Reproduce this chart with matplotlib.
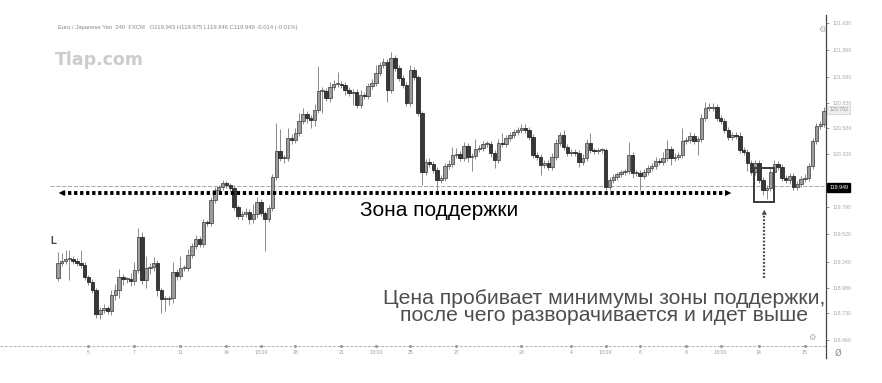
import numpy as np
import matplotlib
matplotlib.use("Agg")
import matplotlib.pyplot as plt
import matplotlib.transforms as mtransforms

plt.rcParams["font.family"] = ["Liberation Sans", "DejaVu Sans"]

# === Data: EUR/JPY 4H candles ===
first_open = 119.08
closes = [
    119.23, 119.25, 119.27, 119.27, 119.25, 119.23, 119.21, 119.09, 119.04, 118.96,
    118.72, 118.76, 118.78, 118.75, 118.91, 118.96, 119.09, 119.07, 119.07, 119.05,
    119.16, 119.49, 119.06, 119.18, 119.19, 119.23, 118.96, 118.87, 118.87, 118.88,
    119.14, 119.10, 119.18, 119.18, 119.31, 119.40, 119.47, 119.42, 119.64, 119.63,
    119.86, 119.96, 119.99, 120.03, 120.01, 119.98, 119.79, 119.70, 119.72, 119.74,
    119.67, 119.72, 119.84, 119.73, 119.67, 119.78, 120.09, 120.35, 120.28, 120.28,
    120.48, 120.46, 120.53, 120.65, 120.72, 120.68, 120.66, 120.76, 120.95, 120.95,
    120.88, 120.99, 121.02, 121.02, 121.01, 120.96, 120.93, 120.94, 120.81, 120.91,
    120.90, 121.00, 121.03, 121.13, 121.21, 121.24, 120.96, 121.28, 121.18, 121.08,
    121.01, 120.83, 121.16, 121.09, 120.73, 120.14, 120.24, 120.22, 120.16, 120.06,
    120.08, 120.20, 120.22, 120.31, 120.32, 120.28, 120.40, 120.29, 120.30, 120.37,
    120.38, 120.42, 120.42, 120.33, 120.26, 120.43, 120.42, 120.48, 120.51, 120.54,
    120.56, 120.58, 120.56, 120.49, 120.31, 120.29, 120.21, 120.23, 120.19, 120.29,
    120.43, 120.51, 120.39, 120.33, 120.34, 120.33, 120.24, 120.28, 120.43, 120.36,
    120.35, 120.36, 120.36, 119.99, 120.06, 120.09, 120.12, 120.14, 120.15, 120.31,
    120.13, 120.13, 120.10, 120.14, 120.18, 120.20, 120.25, 120.24, 120.28, 120.37,
    120.28, 120.29, 120.31, 120.45, 120.46, 120.50, 120.45, 120.47, 120.68, 120.78,
    120.78, 120.79, 120.68, 120.65, 120.56, 120.49, 120.51, 120.50, 120.36, 120.34,
    120.23, 120.14, 120.23, 120.06, 119.96, 119.98, 120.14, 120.22, 120.19, 120.08,
    120.06, 120.10, 119.99, 120.02, 120.07, 120.08, 120.20, 120.45, 120.60, 120.62,
    120.75,
]

# wick lengths above / below the body, in pips (0.01)
wick_up = [
    11, 8, 9, 9, 3, 3, 13, 3, 2, 3,
    2, 3, 4, 2, 5, 6, 8, 3, 2, 6,
    8, 9, 5, 12, 4, 6, 3, 2, 3, 2,
    10, 3, 12, 3, 6, 3, 4, 3, 3, 2,
    3, 3, 2, 3, 2, 2, 3, 2, 3, 4,
    3, 10, 5, 3, 2, 3, 3, 28, 22, 3,
    10, 4, 5, 8, 6, 3, 3, 6, 25, 4,
    3, 5, 4, 12, 3, 3, 3, 3, 3, 5,
    3, 3, 4, 8, 3, 4, 3, 6, 3, 3,
    3, 3, 5, 3, 2, 2, 3, 4, 3, 3,
    3, 3, 4, 8, 6, 3, 4, 3, 3, 10,
    3, 3, 3, 3, 3, 4, 10, 3, 3, 3,
    3, 4, 4, 3, 3, 3, 3, 3, 3, 4,
    4, 3, 5, 3, 3, 3, 3, 4, 4, 10,
    2, 2, 2, 2, 3, 3, 2, 2, 2, 13,
    3, 3, 3, 3, 3, 3, 4, 3, 6, 9,
    3, 4, 3, 13, 3, 4, 3, 3, 4, 6,
    5, 4, 3, 3, 3, 3, 3, 3, 4, 3,
    3, 3, 3, 3, 3, 3, 4, 4, 3, 3,
    3, 3, 3, 3, 3, 4, 3, 3, 3, 3, 4,
]
wick_dn = [
    3, 3, 3, 21, 3, 3, 3, 3, 3, 3,
    4, 5, 3, 3, 4, 5, 8, 6, 4, 5,
    4, 3, 4, 8, 6, 4, 6, 14, 12, 6,
    5, 4, 3, 3, 3, 3, 3, 3, 3, 3,
    3, 3, 2, 3, 3, 3, 3, 3, 4, 3,
    5, 4, 4, 3, 32, 3, 3, 3, 3, 5,
    3, 4, 3, 3, 3, 5, 8, 6, 3, 22,
    3, 4, 3, 3, 3, 5, 3, 12, 3, 3,
    3, 3, 3, 3, 3, 3, 12, 3, 3, 3,
    3, 3, 3, 3, 3, 13, 3, 3, 3, 12,
    3, 3, 3, 3, 3, 3, 3, 5, 14, 3,
    3, 3, 3, 4, 8, 3, 3, 3, 3, 3,
    3, 3, 3, 3, 3, 3, 10, 3, 3, 3,
    3, 3, 3, 3, 3, 3, 5, 3, 3, 3,
    3, 3, 3, 3, 3, 3, 3, 3, 3, 3,
    5, 3, 14, 3, 3, 3, 3, 3, 3, 3,
    7, 3, 3, 3, 3, 3, 3, 14, 3, 3,
    3, 3, 3, 3, 3, 3, 3, 3, 3, 3,
    8, 3, 3, 3, 5, 9, 3, 3, 3, 3,
    3, 4, 3, 3, 3, 3, 3, 3, 3, 3, 3,
]

support_level = 120.00
price_ticks = [118.46, 118.73, 118.98, 119.24, 119.52, 119.79,
               120.32, 120.58, 120.83, 121.09, 121.36, 121.63]
time_tick_pos = [8, 20, 32, 44, 53, 62, 74, 83, 92, 104, 121, 134, 143, 152, 164, 173, 183, 195]
time_tick_labels = ["5", "7", "11", "14", "13:00", "18", "21", "13:00", "25",
                    "27", "28", "4", "13:00", "6", "8", "13:00", "14", "15"]
last_price = "119.949"
header = ("Euro / Japanese Yen  240  FXCM   O119.943 H119.975 L119.846 "
          "C119.949 -0.014 (-0.01%)")

# === Build OHLC ===
closes = np.array(closes)
opens = np.concatenate([[first_open], closes[:-1]])
highs = np.maximum(opens, closes) + np.array(wick_up) / 100
lows = np.minimum(opens, closes) - np.array(wick_dn) / 100
idx = np.arange(len(closes))
up = closes >= opens

# === Plot ===
fig = plt.figure(figsize=(8.82, 3.83), dpi=100)
ax = fig.add_axes([0.0, 0.0653, 0.9365, 0.8956])
ax.set_xlim(-15.1, 200.5)
ax.set_ylim(118.28, 121.71)

ax.vlines(idx, lows, highs, color="#8a8a8a", lw=0.7, zorder=2)
body_h = np.maximum(np.abs(closes - opens), 0.014)
ax.bar(idx[up], body_h[up], bottom=np.minimum(opens, closes)[up], width=0.9,
       color="#9c9c9c", edgecolor="#505050", linewidth=0.6, zorder=3)
ax.bar(idx[~up], body_h[~up], bottom=np.minimum(opens, closes)[~up], width=0.9,
       color="#383838", edgecolor="#2a2a2a", linewidth=0.6, zorder=3)

# support zone: thin chart line + bold dotted arrow
ax.axhline(support_level, xmin=0.06, color="#9a9a9a", lw=0.6, ls=(0, (5, 2)), zorder=1)
ay = support_level - 0.07
ax.plot([1.0, 174.5], [ay, ay], color="black", lw=2.8, ls=(0, (0.85, 0.7)), zorder=4)
ax.annotate("", xy=(-0.5, ay), xytext=(2.5, ay),
            arrowprops=dict(arrowstyle="-|>", color="black", lw=0, mutation_scale=11))
ax.annotate("", xy=(176.5, ay), xytext=(173.5, ay),
            arrowprops=dict(arrowstyle="-|>", color="black", lw=0, mutation_scale=11))
ax.text(99.5, 119.75, "Зона поддержки", ha="center", va="center", fontsize=15, color="black")

# breakout box + vertical arrow
ax.add_patch(plt.Rectangle((181.7, 119.84), 5.3, 0.34, fill=False,
                           edgecolor="#3a3a3a", lw=1.4, zorder=5))
ax.plot([184.4, 184.4], [119.08, 119.74], color="#444444", lw=1.6,
        ls=(0, (0.8, 0.8)), zorder=4)
ax.annotate("", xy=(184.4, 119.79), xytext=(184.4, 119.72),
            arrowprops=dict(arrowstyle="-|>", color="#444444", lw=0, mutation_scale=9))
ax.text(142.6, 118.79, "Цена пробивает минимумы зоны поддержки,\n"
        "после чего разворачивается и идет выше",
        ha="center", va="center", fontsize=15.2, color="#4e4e4e", linespacing=0.9)

# x axis drawn as the faint chart baseline with tiny date labels
ax.axhline(118.40, color="#b5b5b5", lw=0.7, ls=(0, (3, 1.5)), zorder=1)
ax.plot(time_tick_pos, [118.40] * len(time_tick_pos), "o", ms=1.2, color="#999999")
for pos, lab in zip(time_tick_pos, time_tick_labels):
    ax.text(pos, 118.33, lab, ha="center", va="center", fontsize=3.8, color="#9a9a9a")

# right price axis
for s in ["top", "left", "bottom"]:
    ax.spines[s].set_visible(False)
ax.spines["right"].set_color("#444444")
ax.spines["right"].set_linewidth(0.9)
ax.set_xticks([])
ax.yaxis.tick_right()
ax.set_yticks(price_ticks)
ax.set_yticklabels([f"{p:.3f}" for p in price_ticks])
ax.tick_params(axis="y", length=2, width=0.6, color="#888888", labelsize=3.8,
               labelcolor="#a8a8a8", pad=3)

trans = mtransforms.blended_transform_factory(ax.transAxes, ax.transData)
ax.text(1.004, 119.985, last_price, transform=trans, fontsize=3.8, color="white",
        va="center", ha="left",
        bbox=dict(boxstyle="square,pad=0.35", fc="black", ec="black"))
ax.text(1.004, 120.76, "120.762", transform=trans, fontsize=3.8, color="#999999",
        va="center", ha="left",
        bbox=dict(boxstyle="square,pad=0.35", fc="#eeeeee", ec="#cccccc", lw=0.5))

# header, watermark, small chart marks
fig.text(0.066, 0.929, header, fontsize=4.2, color="#888888", va="center")
fig.text(0.062, 0.843, "Tlap.com", fontsize=12.5, color="#cccccc",
         fontfamily="DejaVu Sans", fontweight="bold", va="center")
ax.text(-1.2, 119.45, "L", fontsize=7, color="#444444", fontweight="bold",
        ha="center", va="center")
fig.text(0.932, 0.922, "⚙", fontsize=6, color="#aaaaaa", fontfamily="DejaVu Sans",
         ha="center", va="center")
fig.text(0.921, 0.120, "⚙", fontsize=6, color="#aaaaaa", fontfamily="DejaVu Sans",
         ha="center", va="center")
fig.text(0.950, 0.078, "Ø", fontsize=6, color="#888888", fontfamily="DejaVu Sans",
         ha="center", va="center")

fig.savefig("out.png", dpi=100, facecolor="white")
